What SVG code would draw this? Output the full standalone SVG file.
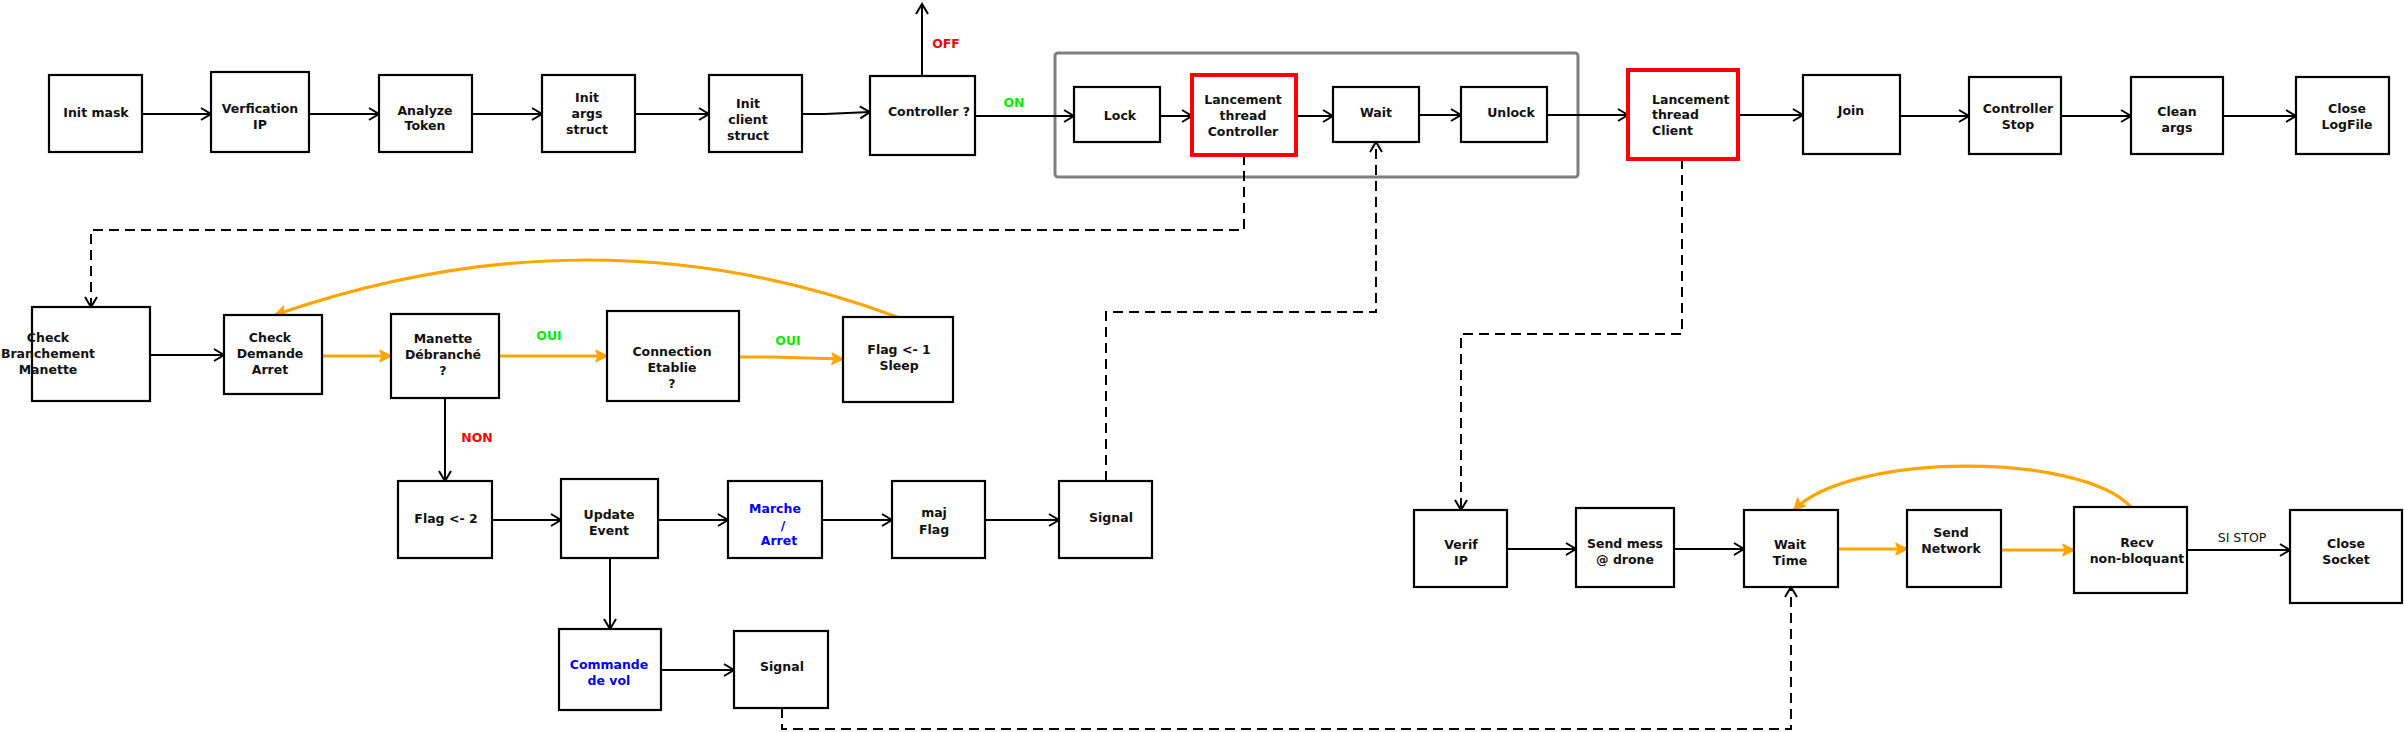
<svg xmlns="http://www.w3.org/2000/svg" width="2404" height="732" viewBox="0 0 2404 732">
<style>
  .box { fill: #fff; stroke: #000; stroke-width: 2.2; }
  .red { fill: #fff; stroke: #ff0000; stroke-width: 4; }
  .t { font-family: "DejaVu Sans", Verdana, sans-serif; font-size: 12.5px; font-weight: bold; fill: #111; text-anchor: middle; }
  .ts { text-anchor: start; }
  .blue { fill: #0000ff; }
  .lg { font-family: "DejaVu Sans", sans-serif; font-size: 12.5px; font-weight: bold; text-anchor: middle; }
  .g { fill: #00ee00; }
  .r { fill: #ff0000; }
  .c { fill: none; stroke: #000; stroke-width: 2; }
  .o { fill: none; stroke: #ffa500; stroke-width: 3.2; }
  .d { fill: none; stroke: #000; stroke-width: 2; stroke-dasharray: 10 6; }
</style>
<defs>
  <marker id="a" markerWidth="14" markerHeight="14" refX="12" refY="7" orient="auto" markerUnits="userSpaceOnUse">
    <path d="M2,1 L12,7 L2,13" fill="none" stroke="#000" stroke-width="2"/>
  </marker>
  <marker id="ao" markerWidth="16" markerHeight="16" refX="13" refY="8" orient="auto" markerUnits="userSpaceOnUse">
    <path d="M2,2.5 L13,8 L2,13.5 L4.5,8 Z" fill="#ffa500" stroke="#ffa500" stroke-width="1.5" stroke-linejoin="round"/>
  </marker>
</defs>
<rect width="2404" height="732" fill="#fff"/>

<g id="group-box">
  <rect x="1055" y="53" width="523" height="124" rx="3" fill="none" stroke="#7f7f7f" stroke-width="3"/>
</g>

<g id="connectors">
  <line class="c" x1="142" y1="114" x2="211" y2="114" marker-end="url(#a)"/>
  <line class="c" x1="309" y1="114" x2="379" y2="114" marker-end="url(#a)"/>
  <line class="c" x1="472" y1="114" x2="542" y2="114" marker-end="url(#a)"/>
  <line class="c" x1="635" y1="114" x2="709" y2="114" marker-end="url(#a)"/>
  <polyline class="c" points="802,114 825,114 870,112" marker-end="url(#a)"/>
  <line class="c" x1="922" y1="76" x2="922" y2="4" marker-end="url(#a)"/>
  <line class="c" x1="975" y1="116" x2="1074" y2="116" marker-end="url(#a)"/>
  <line class="c" x1="1160" y1="116" x2="1192" y2="116" marker-end="url(#a)"/>
  <line class="c" x1="1296" y1="116" x2="1333" y2="116" marker-end="url(#a)"/>
  <line class="c" x1="1419" y1="115" x2="1461" y2="115" marker-end="url(#a)"/>
  <line class="c" x1="1547" y1="115" x2="1628" y2="115" marker-end="url(#a)"/>
  <line class="c" x1="1738" y1="115" x2="1803" y2="115" marker-end="url(#a)"/>
  <line class="c" x1="1900" y1="116" x2="1969" y2="116" marker-end="url(#a)"/>
  <line class="c" x1="2061" y1="116" x2="2131" y2="116" marker-end="url(#a)"/>
  <line class="c" x1="2223" y1="116" x2="2296" y2="116" marker-end="url(#a)"/>

  <polyline class="d" points="1244,155 1244,230 91,230 91,307" marker-end="url(#a)"/>
  <line class="c" x1="150" y1="355" x2="224" y2="355" marker-end="url(#a)"/>
  <line class="o" x1="322" y1="356" x2="391" y2="356" marker-end="url(#ao)"/>
  <line class="o" x1="499" y1="356" x2="607" y2="356" marker-end="url(#ao)"/>
  <polyline class="o" points="739,357 772,357 843,359" marker-end="url(#ao)"/>
  <path class="o" d="M897,317 Q594,204 275,315" marker-end="url(#ao)"/>
  <line class="c" x1="445" y1="398" x2="445" y2="481" marker-end="url(#a)"/>

  <line class="c" x1="492" y1="520" x2="561" y2="520" marker-end="url(#a)"/>
  <line class="c" x1="658" y1="520" x2="728" y2="520" marker-end="url(#a)"/>
  <line class="c" x1="822" y1="520" x2="892" y2="520" marker-end="url(#a)"/>
  <line class="c" x1="985" y1="520" x2="1059" y2="520" marker-end="url(#a)"/>
  <line class="c" x1="610" y1="558" x2="610" y2="629" marker-end="url(#a)"/>
  <line class="c" x1="661" y1="670" x2="734" y2="670" marker-end="url(#a)"/>
  <polyline class="d" points="1106,481 1106,312 1376,312 1376,142" marker-end="url(#a)"/>
  <polyline class="d" points="782,708 782,729 1791,729 1791,587" marker-end="url(#a)"/>

  <polyline class="d" points="1682,159 1682,334 1461,334 1461,510" marker-end="url(#a)"/>
  <line class="c" x1="1507" y1="549" x2="1576" y2="549" marker-end="url(#a)"/>
  <line class="c" x1="1674" y1="549" x2="1744" y2="549" marker-end="url(#a)"/>
  <line class="o" x1="1838" y1="549" x2="1907" y2="549" marker-end="url(#ao)"/>
  <line class="o" x1="2001" y1="550" x2="2074" y2="550" marker-end="url(#ao)"/>
  <path class="o" d="M2131,507 C2080,452 1850,452 1794,510" marker-end="url(#ao)"/>
  <line class="c" x1="2187" y1="550" x2="2290" y2="550" marker-end="url(#a)"/>

  <text class="lg r" x="946" y="47.5">OFF</text>
  <text class="lg g" x="1014" y="106.5">ON</text>
  <text class="lg g" x="549" y="340">OUI</text>
  <text class="lg g" x="788" y="345">OUI</text>
  <text class="lg r" x="477" y="441.5">NON</text>
  <text x="2242" y="542" font-family="DejaVu Sans, sans-serif" font-size="12.5px" text-anchor="middle" fill="#111">SI STOP</text>
</g>

<g id="init-mask"><rect class="box" x="49" y="75" width="93" height="77"/><text class="t" x="96" y="117">Init mask</text></g>
<g id="verification-ip"><rect class="box" x="211" y="72" width="98" height="80"/><text class="t" x="260" y="113">Verfication</text><text class="t" x="260" y="129">IP</text></g>
<g id="analyze-token"><rect class="box" x="379" y="75" width="93" height="77"/><text class="t" x="425" y="114.5">Analyze</text><text class="t" x="425" y="130">Token</text></g>
<g id="init-args"><rect class="box" x="542" y="75" width="93" height="77"/><text class="t" x="587" y="102">Init</text><text class="t" x="587" y="118">args</text><text class="t" x="587" y="134">struct</text></g>
<g id="init-client"><rect class="box" x="709" y="75" width="93" height="77"/><text class="t" x="748" y="108">Init</text><text class="t" x="748" y="124">client</text><text class="t" x="748" y="140">struct</text></g>
<g id="controller-q"><rect class="box" x="870" y="76" width="105" height="79"/><text class="t" x="929" y="116">Controller ?</text></g>
<g id="lock"><rect class="box" x="1074" y="87" width="86" height="55"/><text class="t" x="1120" y="120">Lock</text></g>
<g id="thread-controller"><rect class="red" x="1192" y="75" width="104" height="80"/><text class="t" x="1243" y="104">Lancement</text><text class="t" x="1243" y="120">thread</text><text class="t" x="1243" y="136">Controller</text></g>
<g id="wait"><rect class="box" x="1333" y="87" width="86" height="55"/><text class="t" x="1376" y="117">Wait</text></g>
<g id="unlock"><rect class="box" x="1461" y="87" width="86" height="55"/><text class="t" x="1511" y="117">Unlock</text></g>
<g id="thread-client"><rect class="red" x="1628" y="70" width="110" height="89"/><text class="t ts" x="1652" y="103.5">Lancement</text><text class="t ts" x="1652" y="119">thread</text><text class="t ts" x="1652" y="134.5">Client</text></g>
<g id="join"><rect class="box" x="1803" y="75" width="97" height="79"/><text class="t" x="1851" y="115">Join</text></g>
<g id="controller-stop"><rect class="box" x="1969" y="77" width="92" height="77"/><text class="t" x="2018" y="113">Controller</text><text class="t" x="2018" y="129">Stop</text></g>
<g id="clean-args"><rect class="box" x="2131" y="77" width="92" height="77"/><text class="t" x="2177" y="116">Clean</text><text class="t" x="2177" y="132">args</text></g>
<g id="close-logfile"><rect class="box" x="2296" y="77" width="93" height="77"/><text class="t" x="2347" y="113">Close</text><text class="t" x="2347" y="129">LogFile</text></g>

<g id="check-branchement"><rect class="box" x="32" y="307" width="118" height="94"/><text class="t" x="48" y="342">Check</text><text class="t" x="48" y="358">Branchement</text><text class="t" x="48" y="374">Manette</text></g>
<g id="check-demande"><rect class="box" x="224" y="315" width="98" height="79"/><text class="t" x="270" y="342">Check</text><text class="t" x="270" y="358">Demande</text><text class="t" x="270" y="374">Arret</text></g>
<g id="manette-debranche"><rect class="box" x="391" y="314" width="108" height="84"/><text class="t" x="443" y="343">Manette</text><text class="t" x="443" y="359">Débranché</text><text class="t" x="443" y="375">?</text></g>
<g id="connection-etablie"><rect class="box" x="607" y="311" width="132" height="90"/><text class="t" x="672" y="356">Connection</text><text class="t" x="672" y="372">Etablie</text><text class="t" x="672" y="388">?</text></g>
<g id="flag1"><rect class="box" x="843" y="317" width="110" height="85"/><text class="t" x="899" y="354">Flag &lt;- 1</text><text class="t" x="899" y="370">Sleep</text></g>

<g id="flag2"><rect class="box" x="398" y="481" width="94" height="77"/><text class="t" x="446" y="523">Flag &lt;- 2</text></g>
<g id="update-event"><rect class="box" x="561" y="479" width="97" height="79"/><text class="t" x="609" y="519">Update</text><text class="t" x="609" y="535">Event</text></g>
<g id="marche-arret"><rect class="box" x="728" y="481" width="94" height="77"/><text class="t blue" x="775" y="513">Marche</text><text class="t blue" x="783" y="529.5">/</text><text class="t blue" x="779" y="545">Arret</text></g>
<g id="maj-flag"><rect class="box" x="892" y="481" width="93" height="77"/><text class="t" x="934" y="517">maj</text><text class="t" x="934" y="533.5">Flag</text></g>
<g id="signal1"><rect class="box" x="1059" y="481" width="93" height="77"/><text class="t" x="1111" y="522">Signal</text></g>
<g id="commande-vol"><rect class="box" x="559" y="629" width="102" height="81"/><text class="t blue" x="609" y="668.5">Commande</text><text class="t blue" x="609" y="684.5">de vol</text></g>
<g id="signal2"><rect class="box" x="734" y="631" width="94" height="77"/><text class="t" x="782" y="671">Signal</text></g>

<g id="verif-ip"><rect class="box" x="1414" y="510" width="93" height="77"/><text class="t" x="1461" y="548.5">Verif</text><text class="t" x="1461" y="564.5">IP</text></g>
<g id="send-mess"><rect class="box" x="1576" y="508" width="98" height="79"/><text class="t" x="1625" y="548">Send mess</text><text class="t" x="1625" y="564">@ drone</text></g>
<g id="wait-time"><rect class="box" x="1744" y="510" width="94" height="77"/><text class="t" x="1790" y="549">Wait</text><text class="t" x="1790" y="565">Time</text></g>
<g id="send-network"><rect class="box" x="1907" y="510" width="94" height="77"/><text class="t" x="1951" y="536.5">Send</text><text class="t" x="1951" y="552.5">Network</text></g>
<g id="recv"><rect class="box" x="2074" y="507" width="113" height="86"/><text class="t" x="2137" y="547">Recv</text><text class="t" x="2137" y="563">non-bloquant</text></g>
<g id="close-socket"><rect class="box" x="2290" y="510" width="112" height="93"/><text class="t" x="2346" y="548">Close</text><text class="t" x="2346" y="564">Socket</text></g>
</svg>
